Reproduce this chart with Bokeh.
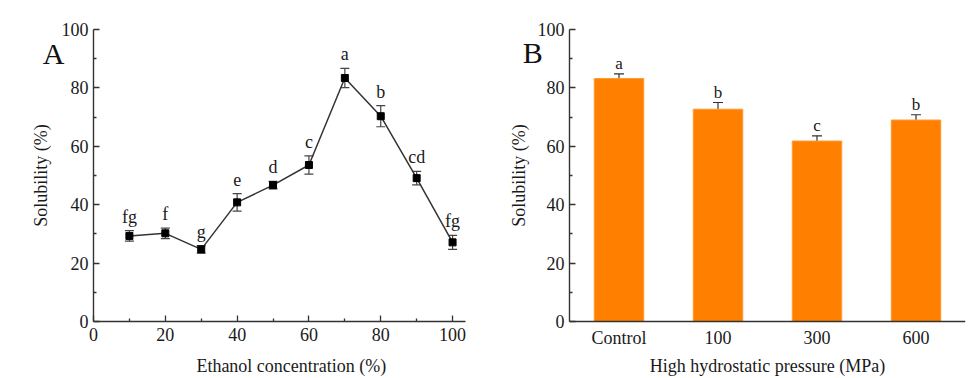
from bokeh.plotting import figure
from bokeh.layouts import row
from bokeh.models import (ColumnDataSource, Whisker, TeeHead, Label, FixedTicker,
                          Range1d, FactorRange)
from bokeh.embed import file_html
from bokeh.resources import INLINE
from bokeh.core.properties import value

# ---------------- data ----------------
ethanol = [10, 20, 30, 40, 50, 60, 70, 80, 90, 100]
solubility_a = [29.3, 30.2, 24.7, 40.8, 46.7, 53.6, 83.4, 70.3, 49.1, 27.1]
error_a = [1.8, 1.8, 1.3, 3.0, 1.3, 3.1, 3.3, 3.6, 2.3, 2.4]
letters_a = ["fg", "f", "g", "e", "d", "c", "a", "b", "cd", "fg"]

pressure = ["Control", "100", "300", "600"]
solubility_b = [83.2, 72.7, 61.8, 69.0]
error_b = [1.6, 2.3, 1.8, 1.8]
letters_b = ["a", "b", "c", "b"]

y_ticks = [0, 20, 40, 60, 80, 100]
y_minor = [10, 30, 50, 70, 90]
x_ticks_a = [0, 20, 40, 60, 80, 100]
x_minor_a = [10, 30, 50, 70, 90]

FONT = "Liberation Serif"
AXIS_COLOR = "#333333"
TEXT_COLOR = "#1a1a1a"


def style_axis(ax):
    ax.axis_line_color = AXIS_COLOR
    ax.axis_line_width = 1.4
    ax.major_tick_line_color = AXIS_COLOR
    ax.minor_tick_line_color = AXIS_COLOR
    ax.major_tick_line_width = 1.3
    ax.minor_tick_line_width = 1.3
    ax.major_tick_in = 6
    ax.major_tick_out = 0
    ax.minor_tick_in = 3
    ax.minor_tick_out = 0
    ax.major_label_text_font = FONT
    ax.major_label_text_font_size = "18px"
    ax.major_label_text_color = TEXT_COLOR
    ax.axis_label_text_font = FONT
    ax.axis_label_text_font_size = "18px"
    ax.axis_label_text_font_style = "normal"
    ax.axis_label_text_color = TEXT_COLOR


def title_label(x, y, text):
    return Label(x=x, y=y, text=text, text_font=FONT, text_font_size="18px",
                 text_align="center", text_baseline="middle", text_color=TEXT_COLOR)


# ---------------- panel A ----------------
# The frame covers the whole canvas; axes are drawn at x = 0 / y = 0 so that
# the panel letter and the axis texts all sit inside the frame.
pa = figure(output_backend="svg", toolbar_location=None,
            frame_width=466, frame_height=378,
            min_border_left=0, min_border_right=0,
            min_border_top=0, min_border_bottom=0,
            x_range=Range1d(-25.9, 103.88), y_range=Range1d(-19.52, 109.93))
pa.outline_line_color = None
pa.grid.visible = False
pa.background_fill_color = "white"
pa.border_fill_color = "white"

pa.xaxis.ticker = FixedTicker(ticks=x_ticks_a, minor_ticks=x_minor_a)
pa.yaxis.ticker = FixedTicker(ticks=y_ticks, minor_ticks=y_minor)
pa.xaxis.bounds = (0, 103.6)
pa.yaxis.bounds = (0, 100)
pa.xaxis.fixed_location = 0
pa.yaxis.fixed_location = 0
pa.yaxis.axis_label = "Solubility (%)"
for ax in (pa.xaxis[0], pa.yaxis[0]):
    style_axis(ax)
pa.xaxis.major_label_standoff = 6
pa.yaxis.major_label_standoff = 5
pa.yaxis.axis_label_standoff = 8
pa.add_layout(title_label(55.1, -15.4, "Ethanol concentration (%)"))

src_a = ColumnDataSource(dict(
    x=ethanol, y=solubility_a,
    upper=[v + e for v, e in zip(solubility_a, error_a)],
    lower=[v - e for v, e in zip(solubility_a, error_a)],
    txt=letters_a,
))
pa.line("x", "y", source=src_a, line_color="#333333", line_width=1.5)
wa = Whisker(base="x", upper="upper", lower="lower", source=src_a,
             line_color="#444444", line_width=1.2,
             upper_head=TeeHead(size=9, line_color="#444444", line_width=1.2),
             lower_head=TeeHead(size=9, line_color="#444444", line_width=1.2))
pa.add_layout(wa)
pa.scatter("x", "y", source=src_a, marker="square", size=7,
           fill_color="black", line_color="black")
pa.text("x", "upper", text="txt", source=src_a, text_font=value(FONT),
        text_font_size="18px", text_align="center", text_baseline="alphabetic",
        text_color=TEXT_COLOR, y_offset=-14)
pa.add_layout(Label(x=-11.1, y=91.8, text="A", text_font=FONT, text_font_size="30px",
                    text_align="center", text_baseline="middle", text_color="#111111"))

# ---------------- panel B ----------------
# one blank leading slot gives room left of the y axis for the panel letter
n_b = len(pressure)
pb = figure(output_backend="svg", toolbar_location=None,
            frame_width=495, frame_height=378,
            min_border_left=4, min_border_right=14,
            min_border_top=0, min_border_bottom=0,
            x_range=FactorRange(factors=[" "] + pressure),
            y_range=Range1d(-19.52, 109.93))
pb.outline_line_color = None
pb.grid.visible = False
pb.background_fill_color = "white"
pb.border_fill_color = "white"

pb.yaxis.ticker = FixedTicker(ticks=y_ticks, minor_ticks=y_minor)
pb.yaxis.fixed_location = 1.0
pb.xaxis.fixed_location = 0
pb.xaxis.bounds = (1.0, 1.0 + n_b)
pb.yaxis.bounds = (0, 100)
pb.yaxis.axis_label = "Solubility (%)"
for ax in (pb.xaxis[0], pb.yaxis[0]):
    style_axis(ax)
pb.xaxis.major_tick_in = 0
pb.xaxis.major_tick_out = 0
pb.xaxis.major_label_standoff = 6
pb.yaxis.major_label_standoff = 5
pb.yaxis.axis_label_standoff = 6
pb.add_layout(title_label(1.0 + n_b / 2, -15.4, "High hydrostatic pressure (MPa)"))

src_b = ColumnDataSource(dict(
    x=pressure, y=solubility_b,
    upper=[v + e for v, e in zip(solubility_b, error_b)],
    lower=[v - e for v, e in zip(solubility_b, error_b)],
    txt=letters_b,
))
pb.vbar(x="x", top="y", source=src_b, width=0.5,
        fill_color="#FF8000", line_color="#FF9a33", line_width=1)
wb = Whisker(base="x", upper="upper", lower="lower", source=src_b,
             line_color="#333333", line_width=1.2,
             upper_head=TeeHead(size=10, line_color="#333333", line_width=1.2),
             lower_head=TeeHead(size=10, line_color="#333333", line_width=1.2))
pb.add_layout(wb)
pb.text("x", "upper", text="txt", source=src_b, text_font=value(FONT),
        text_font_size="17px", text_align="center", text_baseline="alphabetic",
        text_color=TEXT_COLOR, y_offset=-10)
pb.add_layout(Label(x=0.63, y=92.1, text="B", text_font=FONT, text_font_size="30px",
                    text_align="center", text_baseline="middle", text_color="#111111"))

layout = row(pa, pb)
open("out.html", "w").write(file_html(layout, INLINE))
